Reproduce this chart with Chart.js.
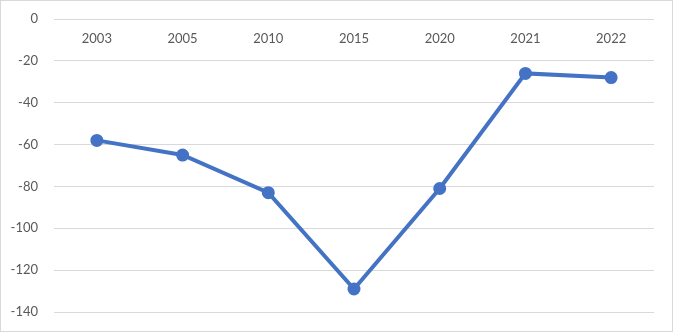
<!DOCTYPE html>
<html>
<head>
<meta charset="utf-8">
<script src="https://cdn.jsdelivr.net/npm/chart.js@4/dist/chart.umd.min.js"></script>
<style>
  html, body { margin: 0; padding: 0; background: #fff; }
  #wrap { width: 673px; height: 332px; box-sizing: border-box; border: 1px solid #d9d9d9; }
  canvas { display: block; }
</style>
</head>
<body>
<div id="wrap"><canvas id="chart" width="671" height="330"></canvas></div>
<script>
// values
const years = ['2003', '2005', '2010', '2015', '2020', '2021', '2022'];
const values = [-58, -65, -83, -129, -81, -26, -28];
const yTicks = [0, -20, -40, -60, -80, -100, -120, -140];

const blue = '#4472C4';

new Chart(document.getElementById('chart'), {
  type: 'line',
  data: {
    labels: years,
    datasets: [{
      data: values,
      borderColor: blue,
      backgroundColor: blue,
      borderWidth: 4,
      pointRadius: 4.5,
      pointHoverRadius: 4.5,
      pointBackgroundColor: blue,
      pointBorderColor: blue,
      tension: 0
    }]
  },
  options: {
    responsive: false,
    animation: false,
    layout: { padding: { top: 18, right: 18, bottom: 19, left: 0 } },
    plugins: { legend: { display: false }, tooltip: { enabled: false } },
    scales: {
      x: {
        position: { y: 0 },
        offset: true,
        grid: { display: false, drawTicks: false },
        border: { display: false },
        ticks: { color: '#595959', font: { family: 'Lato', size: 13 }, padding: 12 }
      },
      y: {
        min: -140,
        max: 0,
        afterBuildTicks: (s) => { s.ticks = yTicks.map(v => ({ value: v })); },
        afterFit: (s) => { s.width = 53; s.paddingTop = 0; s.paddingBottom = 0; },
        grid: { color: '#d9d9d9', lineWidth: 1, drawTicks: false },
        border: { display: false },
        ticks: { color: '#595959', font: { family: 'Lato', size: 13 }, padding: 16 }
      }
    }
  }
});
</script>
</body>
</html>
